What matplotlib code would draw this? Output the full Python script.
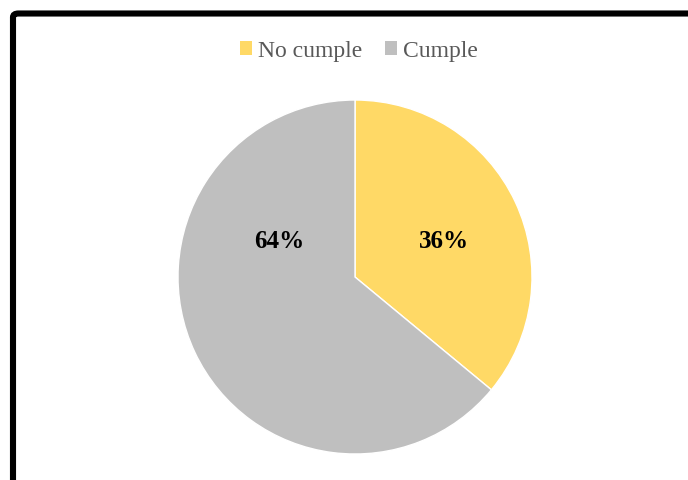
import matplotlib.pyplot as plt
from matplotlib.patches import FancyBboxPatch, Patch

# data
labels = ['No cumple', 'Cumple']
values = [36, 64]
colors = ['#FFD966', '#BFBFBF']

plt.rcParams['font.family'] = ['Liberation Serif', 'DejaVu Serif']

W, H = 688, 480
fig = plt.figure(figsize=(W / 100, H / 100), dpi=100)

# black rounded frame (cropped on right and bottom)
frame = FancyBboxPatch((13 / W, -0.2), 1.2, 1 - 13.5 / H + 0.2,
                       boxstyle='round,pad=0,rounding_size=0.008',
                       transform=fig.transFigure, facecolor='none',
                       edgecolor='black', linewidth=4.4)
fig.patches.append(frame)

cx, cy, r = 355, 480 - 277, 177
ax = fig.add_axes([(cx - r) / W, (cy - r) / H, 2 * r / W, 2 * r / H])
wedges, _ = ax.pie(values, colors=colors, startangle=90, counterclock=False,
                   radius=1, wedgeprops=dict(edgecolor='white', linewidth=1))
ax.set_xlim(-1, 1)
ax.set_ylim(-1, 1)
ax.set_aspect('equal')
ax.axis('off')

label_pos = [(0.50, 0.20), (-0.43, 0.20)]
for v, (x, y) in zip(values, label_pos):
    ax.text(x, y, f'{v}%', ha='center', va='center', fontsize=18,
            fontweight='bold', color='black')

handles = [Patch(facecolor=c, edgecolor='none') for c in colors]
leg = fig.legend(handles, labels, loc='center', ncol=2, frameon=False,
                 bbox_to_anchor=(359 / W, 1 - 51 / H), fontsize=17,
                 handlelength=0.5, handleheight=0.5, handletextpad=0.25,
                 columnspacing=1.0, labelcolor='#595959')

fig.savefig('out.png', dpi=100, facecolor='white')
